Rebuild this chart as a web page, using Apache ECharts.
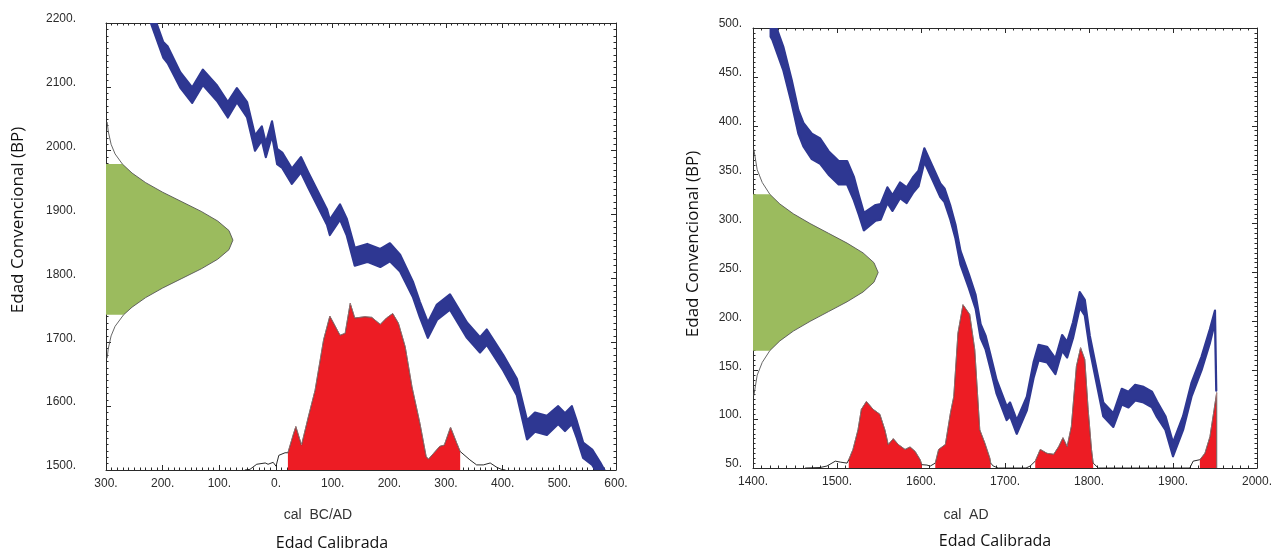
<!DOCTYPE html>
<html>
<head>
<meta charset="utf-8">
<script src="https://cdn.jsdelivr.net/npm/echarts@6/dist/echarts.min.js"></script>
<style>
  html, body { margin: 0; padding: 0; background: #fff; }
  #chart { width: 1275px; height: 550px; }
</style>
</head>
<body>
<div id="chart"></div>
<script>
// ---- left panel (years BC are negative) ----
const leftXTicks = [-300, 600, 100];
const leftYTicks = [1500, 2200, 100];

const leftCurveYear = [-222, -199, -191, -169, -148, -129, -104, -85, -69, -51, -37, -25, -18, -7, 2, 11, 28, 44, 57, 90, 95, 113, 125, 139, 161, 184, 201, 219, 242, 254, 268, 284, 307, 337, 360, 372, 401, 425, 443, 457, 478, 498, 510, 522, 531, 542, 558, 572, 582];
const leftCurveBP = [2215, 2158, 2150, 2111, 2087, 2115, 2090, 2064, 2087, 2064, 2012, 2027, 2001, 2035, 1991, 1985, 1960, 1978, 1954, 1896, 1880, 1904, 1880, 1834, 1840, 1832, 1841, 1824, 1782, 1751, 1719, 1747, 1763, 1719, 1696, 1708, 1668, 1630, 1563, 1575, 1570, 1586, 1575, 1586, 1563, 1531, 1520, 1500, 1484];
const leftCurveErr = [12, 12, 13, 12, 12, 12, 12, 12, 11, 12, 12, 11, 11, 11, 12, 12, 12, 12, 12, 12, 12, 12, 13, 14, 14, 14, 14, 13, 12, 12, 12, 12, 12, 12, 12, 12, 12, 13, 15, 15, 15, 14, 14, 14, 13, 12, 12, 12, 12];

const leftProbYear = [-55, -46, -34, -19, -14, -5, 0, 5, 16, 21, 31, 35, 45, 57, 69, 84, 95, 113, 122, 131, 139, 157, 169, 184, 195, 206, 216, 228, 240, 254, 265, 269, 278, 289, 297, 308, 319, 325, 342, 354, 366, 378, 390, 398, 405];
const leftProbBP = [1500, 1501, 1509, 1511, 1509, 1512, 1506, 1523, 1527, 1527, 1557, 1568, 1539, 1583, 1625, 1704, 1741, 1711, 1714, 1761, 1738, 1740, 1739, 1728, 1738, 1745, 1730, 1693, 1630, 1573, 1521, 1517, 1526, 1537, 1539, 1567, 1542, 1529, 1516, 1508, 1508, 1511, 1504, 1501, 1500];
const leftRanges = [[21, 325]];

const leftDateBP = [2045, 2030, 2010, 1995, 1979, 1965, 1950, 1935, 1920, 1905, 1890, 1875, 1860, 1845, 1830, 1815, 1800, 1785, 1770, 1755, 1743, 1725, 1710, 1690, 1675];
const leftDateYear = [-298, -296, -291, -284, -271, -254, -230, -200, -166, -132, -103, -83, -76, -83, -103, -132, -166, -200, -230, -254, -269, -284, -291, -296, -298];
const leftDateRange = [1743, 1979];

// ---- right panel ----
const rightXTicks = [1400, 2000, 100];
const rightYTicks = [50, 500, 50];

const rightCurveYear = [1421, 1423, 1436, 1446, 1454, 1460, 1470, 1480, 1490, 1502, 1512, 1520, 1526, 1532, 1546, 1552, 1560, 1566, 1575, 1583, 1591, 1597, 1604, 1613, 1623, 1628, 1635, 1641, 1647, 1657, 1665, 1671, 1677, 1682, 1690, 1702, 1706, 1714, 1726, 1734, 1740, 1750, 1760, 1768, 1774, 1781, 1789, 1795, 1801, 1809, 1817, 1829, 1839, 1847, 1855, 1865, 1875, 1881, 1891, 1900, 1912, 1922, 1934, 1944, 1950, 1951.5];
const rightCurveBP = [503, 500, 469, 435, 404, 391, 379, 374, 362, 352, 352, 336, 319, 302, 311, 312, 329, 321, 334, 329, 340, 346, 370, 353, 334, 329, 311, 292, 265, 241, 220, 190, 178, 161, 133, 106, 110, 92, 116, 150, 168, 166, 154, 178, 171, 191, 222, 214, 178, 144, 110, 99, 123, 120, 127, 125, 120, 110, 96, 69, 96, 130, 157, 185, 205, 130];
const rightCurveErr = [12, 12, 12, 12, 12, 12, 13, 13, 12, 12, 12, 12, 10, 9, 8, 8, 8, 8, 8, 8, 8, 8, 7, 7, 7, 7, 7, 7, 7, 7, 7, 7, 7, 7, 7, 7, 7, 7, 7, 8, 8, 8, 8, 8, 8, 8, 8, 8, 7, 7, 7, 7, 8, 8, 8, 8, 8, 8, 7, 7, 7, 7, 7, 7, 6, 1];

const rightProbYear = [1462, 1480, 1488, 1498, 1504, 1512, 1514, 1519, 1525, 1529, 1535, 1543, 1551, 1557, 1561, 1567, 1573, 1581, 1587, 1593, 1599, 1601, 1607, 1611, 1617, 1621, 1629, 1635, 1639, 1644, 1650, 1658, 1664, 1670, 1676, 1682, 1683, 1686, 1692, 1725, 1730, 1736, 1742, 1750, 1758, 1764, 1769, 1774, 1779, 1785, 1790, 1795, 1799, 1803, 1805, 1811, 1920, 1924, 1932, 1938, 1944, 1949, 1952, 1952];
const rightProbBP = [50, 50.5, 52, 57, 56, 55, 58.5, 69, 89, 110, 118, 110, 105, 89, 74, 80, 74, 69, 71.5, 67, 58.5, 53.4, 53, 52, 55, 69, 74, 106, 123, 188, 217, 207, 171, 89, 75.5, 60, 55, 52, 50, 50, 52, 57, 69, 65, 64, 72, 81, 72, 92.5, 154, 173, 161, 110, 69, 55, 50, 50, 57, 58.5, 65, 82, 110, 127, 50];
const rightRanges = [[1514, 1601], [1617, 1683], [1736, 1805], [1932, 1952]];

const rightDateBP = [376, 355, 342, 330, 320, 310, 300, 290, 280, 270, 260, 250, 240, 230, 220, 210, 200, 190, 180, 170, 158, 145, 124];
const rightDateYear = [1401, 1405, 1411, 1420, 1432, 1448, 1468, 1490, 1512, 1531, 1544, 1549, 1544, 1531, 1512, 1490, 1468, 1448, 1432, 1420, 1411, 1405, 1401];
const rightDateRange = [170, 330];

const BLUE = '#2e3792';
const RED = '#ed1c24';
const GREEN = '#9bbb5e';
const TICK_FONT = "'Liberation Sans', Arial, sans-serif";
const NAME_FONT = "'Open Sans', 'Liberation Sans', sans-serif";

const zip = (xs, ys) => xs.map((x, i) => [x, ys[i]]);

function axis(kind, grid, ticks, pos, labels, margin, fmt) {
  const a = {
    type: 'value', gridIndex: grid, position: pos,
    min: ticks[0], max: ticks[1], interval: ticks[2],
    axisLine: { show: true, onZero: false, lineStyle: { color: '#2a2a2a', width: 1 } },
    axisTick: { show: true, inside: true, length: 5, lineStyle: { color: '#2a2a2a' } },
    minorTick: { show: true, splitNumber: 10, length: 2.5, lineStyle: { color: '#2a2a2a' } },
    splitLine: { show: false },
    axisLabel: { show: labels, margin: margin, color: '#2b2b2b', fontFamily: TICK_FONT, fontSize: 12,
      showMinLabel: true, showMaxLabel: true, formatter: fmt || (v => v + '.') }
  };
  if (kind === 'y') { a.axisLabel.verticalAlign = 'bottom'; a.axisLabel.lineHeight = 8; }
  return a;
}

function band(xs, ys, errs, xi) {
  return {
    type: 'custom', xAxisIndex: xi, yAxisIndex: xi, clip: true, z: 4,
    data: [0],
    renderItem: (params, api) => {
      const up = xs.map((x, i) => api.coord([x, ys[i] + errs[i]]));
      const lo = xs.map((x, i) => api.coord([x, ys[i] - errs[i]])).reverse();
      return { type: 'polygon', shape: { points: up.concat(lo) },
        style: { fill: BLUE, stroke: BLUE, lineWidth: 2.2, lineJoin: 'round' } };
    }
  };
}

function dateFill(bps, yrs, range, xMin, xi) {
  return {
    type: 'custom', xAxisIndex: xi, yAxisIndex: xi, clip: true, z: 2,
    data: [0],
    renderItem: (params, api) => {
      const pts = [api.coord([xMin, range[1]])];
      bps.forEach((b, i) => { if (b >= range[0] && b <= range[1]) pts.push(api.coord([yrs[i], b])); });
      pts.push(api.coord([xMin, range[0]]));
      return { type: 'polygon', shape: { points: pts }, style: { fill: GREEN } };
    }
  };
}

function outline(data, xi, color, width, smooth) {
  return { type: 'line', xAxisIndex: xi, yAxisIndex: xi, data: data, symbol: 'none', z: 3,
    smooth: smooth || false, lineStyle: { color: color, width: width }, silent: true };
}

function redAreas(xs, ys, ranges, xi) {
  return ranges.map(r => ({
    type: 'line', xAxisIndex: xi, yAxisIndex: xi, symbol: 'none', z: 3,
    data: zip(xs, ys).filter(p => p[0] >= r[0] && p[0] <= r[1]),
    lineStyle: { width: 0.6, color: '#d8a0a0' },
    areaStyle: { color: RED, opacity: 1 }
  }));
}

const chart = echarts.init(document.getElementById('chart'), null, { renderer: 'canvas' });
chart.setOption({
  animation: false,
  backgroundColor: '#fff',
  grid: [
    { left: 106, top: 23, width: 510, height: 447 },
    { left: 753, top: 28, width: 504, height: 440 }
  ],
  xAxis: [
    axis('x', 0, leftXTicks, 'bottom', true, 8, v => Math.abs(v) + '.'),
    axis('x', 0, leftXTicks, 'top', false, 8),
    axis('x', 1, rightXTicks, 'bottom', true, 8),
    axis('x', 1, rightXTicks, 'top', false, 8)
  ],
  yAxis: [
    axis('y', 0, leftYTicks, 'left', true, 30),
    axis('y', 0, leftYTicks, 'right', false, 8),
    axis('y', 1, rightYTicks, 'left', true, 11),
    axis('y', 1, rightYTicks, 'right', false, 8)
  ],
  series: [
    dateFill(leftDateBP, leftDateYear, leftDateRange, leftXTicks[0], 0),
    outline(zip(leftDateYear, leftDateBP), 0, '#555', 0.9),
    outline(zip(leftProbYear, leftProbBP), 0, '#111', 0.9),
    ...redAreas(leftProbYear, leftProbBP, leftRanges, 0),
    band(leftCurveYear, leftCurveBP, leftCurveErr, 0),

    dateFill(rightDateBP, rightDateYear, rightDateRange, rightXTicks[0], 2),
    outline(zip(rightDateYear, rightDateBP), 2, '#555', 0.9),
    outline(zip(rightProbYear, rightProbBP), 2, '#111', 0.9),
    ...redAreas(rightProbYear, rightProbBP, rightRanges, 2),
    band(rightCurveYear, rightCurveBP, rightCurveErr, 2)
  ],
  graphic: [
    { type: 'text', x: 18, y: 220, rotation: Math.PI / 2,
      style: { text: 'Edad Convencional (BP)', font: '17px ' + NAME_FONT, fill: '#111', align: 'center', verticalAlign: 'middle' } },
    { type: 'text', x: 693, y: 244, rotation: Math.PI / 2,
      style: { text: 'Edad Convencional (BP)', font: '17px ' + NAME_FONT, fill: '#111', align: 'center', verticalAlign: 'middle' } },
    { type: 'text', x: 318, y: 515,
      style: { text: 'cal  BC/AD', font: '14px ' + TICK_FONT, fill: '#333', align: 'center', verticalAlign: 'middle' } },
    { type: 'text', x: 966, y: 515,
      style: { text: 'cal  AD', font: '14px ' + TICK_FONT, fill: '#333', align: 'center', verticalAlign: 'middle' } },
    { type: 'text', x: 332, y: 543,
      style: { text: 'Edad Calibrada', font: '16px ' + NAME_FONT, fill: '#111', align: 'center', verticalAlign: 'middle' } },
    { type: 'text', x: 995, y: 541,
      style: { text: 'Edad Calibrada', font: '16px ' + NAME_FONT, fill: '#111', align: 'center', verticalAlign: 'middle' } }
  ]
});
</script>
</body>
</html>
